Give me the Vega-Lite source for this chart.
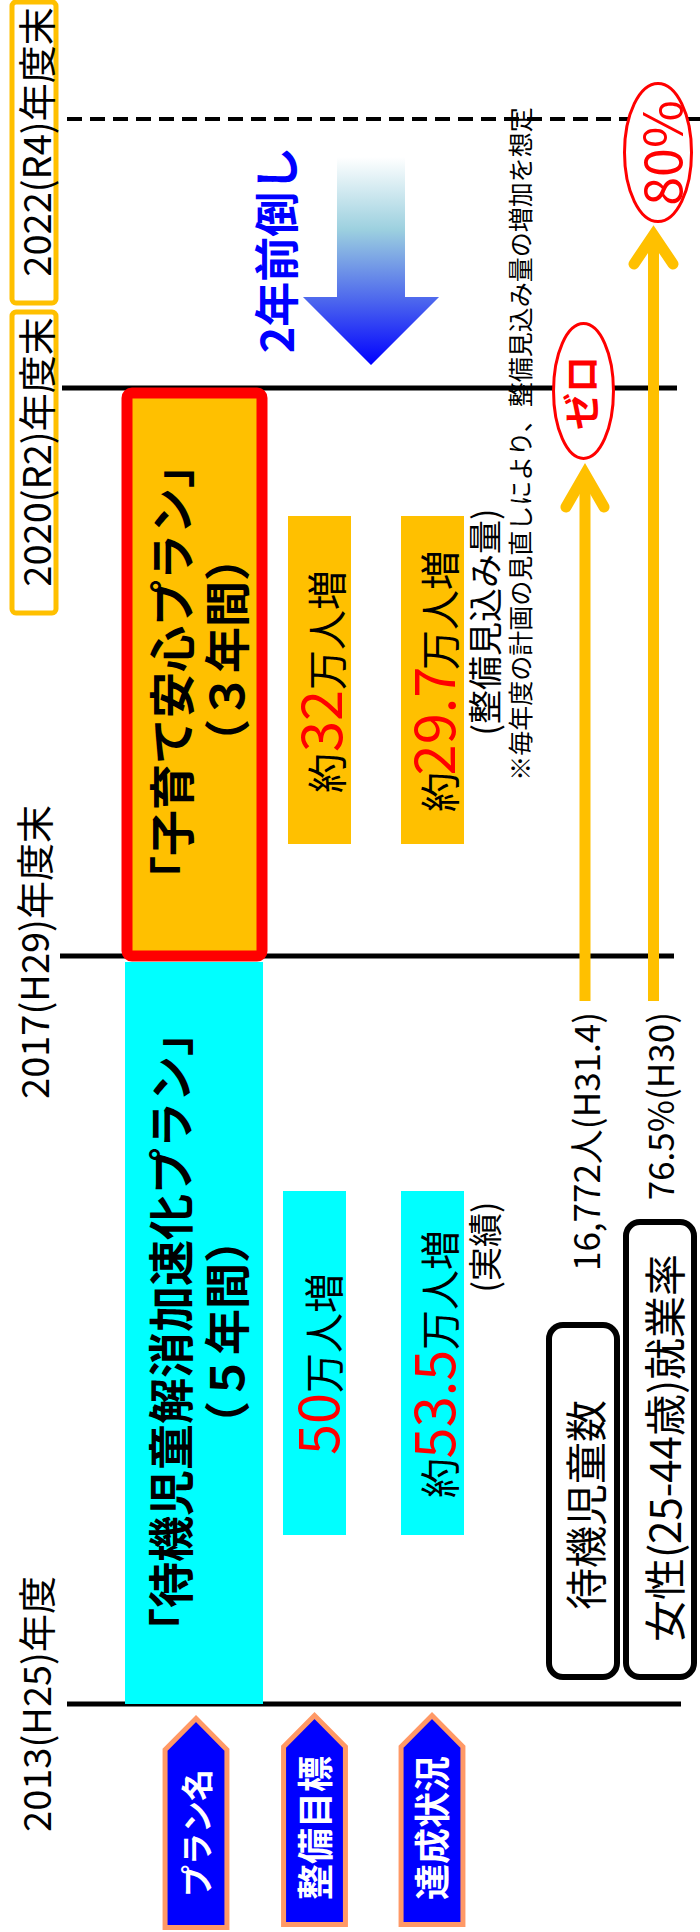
{
  "$schema": "https://vega.github.io/schema/vega-lite/v6.json",
  "width": 700,
  "height": 1932,
  "padding": 0,
  "autosize": {"type": "none"},
  "background": "white",
  "config": {"view": {"stroke": null}, "text": {"font": "Noto Sans CJK JP"}},
  "encoding": {
    "x": {"field": "x", "type": "quantitative", "scale": {"domain": [0, 700], "nice": false, "zero": false}, "axis": null},
    "y": {"field": "y", "type": "quantitative", "scale": {"domain": [0, 1932], "nice": false, "zero": false, "reverse": true}, "axis": null}
  },
  "layer": [
    {
      "data": {"values": [
        {"line": "2020(R2)年度末", "x": 62, "x2": 677, "y": 388},
        {"line": "2017(H29)年度末", "x": 60, "x2": 674, "y": 956},
        {"line": "2013(H25)年度", "x": 67, "x2": 681, "y": 1704}
      ]},
      "mark": {"type": "rule", "color": "black", "strokeWidth": 5},
      "encoding": {"x2": {"field": "x2"}}
    },
    {
      "data": {"values": [{"line": "2022(R4)年度末", "x": 67, "x2": 700, "y": 119}]},
      "mark": {"type": "rule", "color": "black", "strokeWidth": 4, "strokeDash": [15, 8]},
      "encoding": {"x2": {"field": "x2"}}
    },
    {
      "data": {"values": [
        {"box": "2022", "x": 12, "x2": 56, "y": 2, "y2": 303},
        {"box": "2020", "x": 12, "x2": 56, "y": 312, "y2": 613}
      ]},
      "mark": {"type": "rect", "fill": "white", "stroke": "#FFC000", "strokeWidth": 5, "cornerRadius": 4},
      "encoding": {"x2": {"field": "x2"}, "y2": {"field": "y2"}}
    },
    {
      "data": {"values": [{"plan": "待機児童解消加速化プラン", "x": 125, "x2": 263, "y": 962, "y2": 1704}]},
      "mark": {"type": "rect", "fill": "#00FFFF"},
      "encoding": {"x2": {"field": "x2"}, "y2": {"field": "y2"}}
    },
    {
      "data": {"values": [{"plan": "子育て安心プラン", "x": 127, "x2": 262, "y": 393, "y2": 956}]},
      "mark": {"type": "rect", "fill": "#FFC000", "stroke": "#FF0000", "strokeWidth": 11, "cornerRadius": 5},
      "encoding": {"x2": {"field": "x2"}, "y2": {"field": "y2"}}
    },
    {
      "data": {"values": [
        {"item": "整備目標", "x": 288, "x2": 351, "y": 516, "y2": 844},
        {"item": "達成状況", "x": 401, "x2": 464, "y": 516, "y2": 844}
      ]},
      "mark": {"type": "rect", "fill": "#FFC000"},
      "encoding": {"x2": {"field": "x2"}, "y2": {"field": "y2"}}
    },
    {
      "data": {"values": [
        {"item": "整備目標", "x": 283, "x2": 346, "y": 1191, "y2": 1535},
        {"item": "達成状況", "x": 401, "x2": 464, "y": 1191, "y2": 1535}
      ]},
      "mark": {"type": "rect", "fill": "#00FFFF"},
      "encoding": {"x2": {"field": "x2"}, "y2": {"field": "y2"}}
    },
    {
      "data": {"values": [
        {"item": "待機児童数", "x": 549, "x2": 617, "y": 1325, "y2": 1677},
        {"item": "女性就業率", "x": 626, "x2": 694, "y": 1222, "y2": 1677}
      ]},
      "mark": {"type": "rect", "fill": "white", "stroke": "black", "strokeWidth": 6, "cornerRadius": 14},
      "encoding": {"x2": {"field": "x2"}, "y2": {"field": "y2"}}
    },
    {
      "data": {"values": [
        {"seg": "a1", "o": 0, "x": 585, "y": 1001},
        {"seg": "a1", "o": 1, "x": 585, "y": 478},
        {"seg": "a2", "o": 0, "x": 653.5, "y": 1001},
        {"seg": "a2", "o": 1, "x": 653.5, "y": 240}
      ]},
      "mark": {"type": "line", "color": "#FFC000", "strokeWidth": 11, "strokeCap": "butt"},
      "encoding": {"detail": {"field": "seg"}, "order": {"field": "o"}}
    },
    {
      "data": {"values": [
        {"seg": "h1", "o": 0, "x": 566, "y": 507},
        {"seg": "h1", "o": 1, "x": 585, "y": 474},
        {"seg": "h1", "o": 2, "x": 604, "y": 507},
        {"seg": "h2", "o": 0, "x": 634, "y": 264},
        {"seg": "h2", "o": 1, "x": 653.5, "y": 235},
        {"seg": "h2", "o": 2, "x": 673, "y": 264}
      ]},
      "mark": {"type": "line", "color": "#FFC000", "strokeWidth": 11, "strokeCap": "round", "strokeJoin": "miter"},
      "encoding": {"detail": {"field": "seg"}, "order": {"field": "o"}}
    },
    {
      "data": {"values": [{"item": "ゼロ", "x": 583.5, "y": 391}]},
      "mark": {"type": "point", "shape": "M 0 -1 C 0.2452 -1 0.444 -0.5523 0.444 0 C 0.444 0.5523 0.2452 1 0 1 C -0.2452 1 -0.444 0.5523 -0.444 0 C -0.444 -0.5523 -0.2452 -1 0 -1 Z", "size": 18225, "filled": true, "fill": "white", "stroke": "#FF0000", "strokeWidth": 3, "opacity": 1}
    },
    {
      "data": {"values": [{"item": "80%", "x": 658, "y": 152.5}]},
      "mark": {"type": "point", "shape": "M 0 -1 C 0.2681 -1 0.4855 -0.5523 0.4855 0 C 0.4855 0.5523 0.2681 1 0 1 C -0.2681 1 -0.4855 0.5523 -0.4855 0 C -0.4855 -0.5523 -0.2681 -1 0 -1 Z", "size": 19044, "filled": true, "fill": "white", "stroke": "#FF0000", "strokeWidth": 3, "opacity": 1}
    },
    {
      "data": {"values": [{"item": "2年前倒し", "x": 371, "y": 261}]},
      "mark": {"type": "point", "shape": "M -0.327 -1 L 0.327 -1 L 0.327 0.346 L 0.654 0.346 L 0 1 L -0.654 0.346 L -0.327 0.346 Z", "size": 43264, "filled": true, "strokeWidth": 0, "opacity": 1,
        "fill": {"gradient": "linear", "x1": 0, "y1": 0, "x2": 0, "y2": 1, "stops": [
          {"offset": 0, "color": "#FFFFFF"},
          {"offset": 0.35, "color": "#9CD0DF"},
          {"offset": 0.7, "color": "#4A63EE"},
          {"offset": 1, "color": "#0000FF"}
        ]}}
    },
    {
      "data": {"values": [
        {"item": "プラン名", "x": 196, "y": 1823},
        {"item": "整備目標", "x": 314.5, "y": 1820},
        {"item": "達成状況", "x": 432, "y": 1820}
      ]},
      "mark": {"type": "point", "shape": "M 0 -1 L 0.296 -0.70 L 0.296 1 L -0.296 1 L -0.296 -0.70 Z", "size": 43681, "filled": true, "fill": "#0000FF", "stroke": "#FF9966", "strokeWidth": 5, "strokeJoin": "miter", "opacity": 1}
    },
    {
      "data": {"values": [
        {"label": "2022(R4)年度末", "x": 40, "y": 142},
        {"label": "2020(R2)年度末", "x": 40, "y": 452},
        {"label": "2017(H29)年度末", "x": 38, "y": 952},
        {"label": "2013(H25)年度", "x": 40, "y": 1704}
      ]},
      "mark": {"type": "text", "angle": 270, "fontSize": 38, "align": "center", "baseline": "middle", "color": "black"},
      "encoding": {"text": {"field": "label"}}
    },
    {
      "data": {"values": [
        {"label": "「子育て安心プラン」", "x": 175, "y": 672},
        {"label": "（３年間）", "x": 230, "y": 650},
        {"label": "「待機児童解消加速化プラン」", "x": 174, "y": 1332},
        {"label": "（５年間）", "x": 230, "y": 1332}
      ]},
      "mark": {"type": "text", "angle": 270, "fontSize": 46, "fontWeight": "bold", "align": "center", "baseline": "middle", "color": "black"},
      "encoding": {"text": {"field": "label"}}
    },
    {
      "data": {"values": [
        {"label": "約", "x": 342, "y": 793},
        {"label": "万人増", "x": 342, "y": 690},
        {"label": "約", "x": 455, "y": 812},
        {"label": "万人増", "x": 455, "y": 670},
        {"label": "万人増", "x": 339, "y": 1393},
        {"label": "約", "x": 455, "y": 1498},
        {"label": "万人増", "x": 455, "y": 1350}
      ]},
      "mark": {"type": "text", "angle": 270, "fontSize": 40, "align": "left", "baseline": "alphabetic", "color": "black"},
      "encoding": {"text": {"field": "label"}}
    },
    {
      "data": {"values": [
        {"label": "32", "x": 342, "y": 721},
        {"label": "29.7", "x": 455, "y": 721},
        {"label": "50", "x": 339, "y": 1424},
        {"label": "53.5", "x": 455, "y": 1404}
      ]},
      "mark": {"type": "text", "angle": 270, "fontSize": 56, "align": "center", "baseline": "alphabetic", "color": "#FF0000"},
      "encoding": {"text": {"field": "label"}}
    },
    {
      "data": {"values": [
        {"label": "(整備見込み量)", "x": 488, "y": 622},
        {"label": "(実績)", "x": 488, "y": 1247}
      ]},
      "mark": {"type": "text", "angle": 270, "fontSize": 34, "align": "center", "baseline": "middle", "color": "black"},
      "encoding": {"text": {"field": "label"}}
    },
    {
      "data": {"values": [{"label": "※毎年度の計画の見直しにより、整備見込み量の増加を想定", "x": 522, "y": 444}]},
      "mark": {"type": "text", "angle": 270, "fontSize": 25, "align": "center", "baseline": "middle", "color": "black"},
      "encoding": {"text": {"field": "label"}}
    },
    {
      "data": {"values": [
        {"label": "16,772人(H31.4)", "x": 589, "y": 1012},
        {"label": "76.5%(H30)", "x": 663, "y": 1012}
      ]},
      "mark": {"type": "text", "angle": 270, "fontSize": 35, "align": "right", "baseline": "middle", "color": "black"},
      "encoding": {"text": {"field": "label"}}
    },
    {
      "data": {"values": [
        {"label": "待機児童数", "x": 589, "y": 1505},
        {"label": "女性(25-44歳)就業率", "x": 668, "y": 1448}
      ]},
      "mark": {"type": "text", "angle": 270, "fontSize": 42, "align": "center", "baseline": "middle", "color": "black"},
      "encoding": {"text": {"field": "label"}}
    },
    {
      "data": {"values": [{"label": "プラン名", "x": 199, "y": 1833}]},
      "mark": {"type": "text", "angle": 270, "fontSize": 32, "fontWeight": "bold", "align": "center", "baseline": "middle", "color": "white"},
      "encoding": {"text": {"field": "label"}}
    },
    {
      "data": {"values": [
        {"label": "整備目標", "x": 318, "y": 1828},
        {"label": "達成状況", "x": 435, "y": 1828}
      ]},
      "mark": {"type": "text", "angle": 270, "fontSize": 36, "fontWeight": "bold", "align": "center", "baseline": "middle", "color": "white"},
      "encoding": {"text": {"field": "label"}}
    },
    {
      "data": {"values": [{"label": "ゼロ", "x": 585, "y": 393}]},
      "mark": {"type": "text", "angle": 270, "fontSize": 37, "fontWeight": "bold", "align": "center", "baseline": "middle", "color": "#FF0000"},
      "encoding": {"text": {"field": "label"}}
    },
    {
      "data": {"values": [{"label": "80%", "x": 666, "y": 153}]},
      "mark": {"type": "text", "angle": 270, "fontSize": 52, "align": "center", "baseline": "middle", "color": "#FF0000"},
      "encoding": {"text": {"field": "label"}}
    },
    {
      "data": {"values": [{"label": "2年前倒し", "x": 280, "y": 250}]},
      "mark": {"type": "text", "angle": 270, "fontSize": 45, "fontWeight": "bold", "align": "center", "baseline": "middle", "color": "#0000FF"},
      "encoding": {"text": {"field": "label"}}
    }
  ]
}
